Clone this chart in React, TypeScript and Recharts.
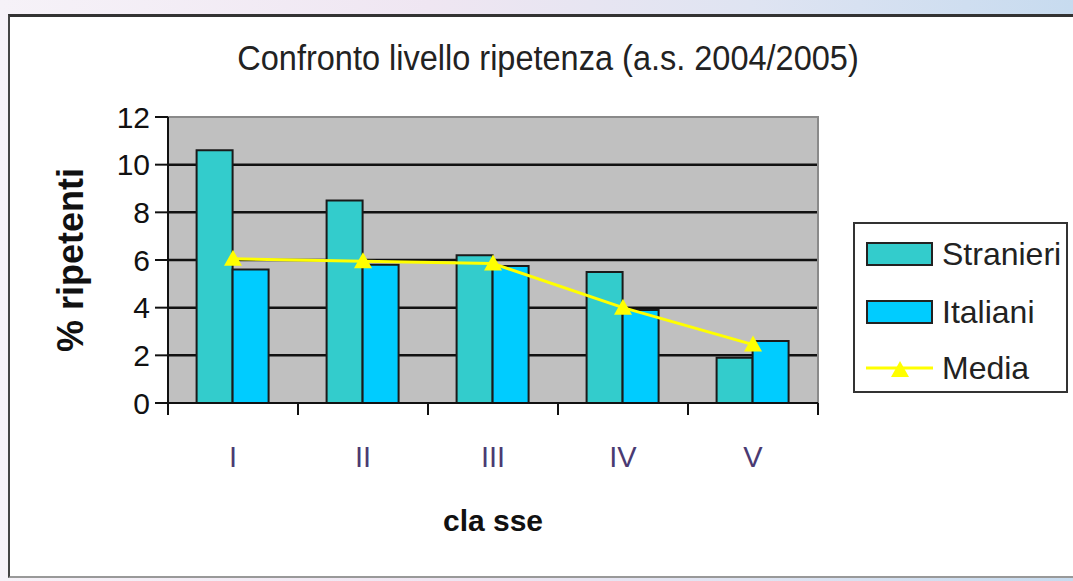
import {
  ComposedChart,
  Bar,
  Line,
  XAxis,
  YAxis,
  CartesianGrid,
  Legend,
  ReferenceArea,
} from "recharts";

// classi e percentuali di ripetenti (a.s. 2004/2005)
const classes = ["I", "II", "III", "IV", "V"];
const stranieri = [10.6, 8.5, 6.2, 5.5, 1.9];
const italiani = [5.6, 5.8, 5.75, 3.9, 2.6];
const media = [6.05, 5.95, 5.85, 4.0, 2.45];
const yTicks = [0, 2, 4, 6, 8, 10, 12];
const gridValues = [2, 4, 6, 8, 10];

const data = classes.map((c, i) => ({
  classe: c,
  Stranieri: stranieri[i],
  Italiani: italiani[i],
  Media: media[i],
}));

const W = 1073;
const H = 581;
const margin = { top: 117, right: 255, bottom: 38, left: 108 };
const Y_AXIS_W = 60;
const X_AXIS_H = 140;
const TICK_SIZE = 12;
const TICK_MARGIN = 31;
const BAND = (W - margin.left - margin.right - Y_AXIS_W) / classes.length;
const FONT = '"Liberation Sans", Arial, sans-serif';

const COL_STR = "#33CCCC";
const COL_ITA = "#00CCFF";
const COL_MEDIA = "#FFFF00";

const Triangle = ({ cx, cy }: any) => {
  if (cx == null || cy == null) return null;
  return (
    <polygon
      points={`${cx},${cy - 9} ${cx - 9},${cy + 7} ${cx + 9},${cy + 7}`}
      fill={COL_MEDIA}
    />
  );
};

// tick label at category centre, tick marks at category boundaries
const XTick = ({ x, y, payload, index }: any) => {
  const axisY = y - TICK_SIZE - TICK_MARGIN;
  const half = BAND / 2;
  return (
    <g>
      <line x1={x - half} x2={x - half} y1={axisY} y2={axisY + TICK_SIZE} stroke="#111" strokeWidth={2} />
      {index === classes.length - 1 && (
        <line x1={x + half} x2={x + half} y1={axisY} y2={axisY + TICK_SIZE} stroke="#111" strokeWidth={2} />
      )}
      <text x={x} y={y} dy="0.71em" textAnchor="middle" fontSize={29} fill="#4a3a72" fontFamily={FONT}>
        {payload.value}
      </text>
    </g>
  );
};

const YLabel = ({ viewBox }: any) => {
  const cx = viewBox.x - 38;
  const cy = viewBox.y + viewBox.height / 2;
  return (
    <text
      x={cx}
      y={cy}
      transform={`rotate(-90 ${cx} ${cy})`}
      textAnchor="middle"
      dominantBaseline="central"
      fontSize={36}
      fontWeight="bold"
      fill="#111"
      fontFamily={FONT}
    >
      % ripetenti
    </text>
  );
};

const LegendBox = () => {
  const rows = [
    { name: "Stranieri", color: COL_STR, type: "bar", center: 30 },
    { name: "Italiani", color: COL_ITA, type: "bar", center: 88 },
    { name: "Media", color: COL_MEDIA, type: "line", center: 144 },
  ];
  return (
    <div
      style={{
        position: "relative",
        width: 215,
        height: 171,
        boxSizing: "border-box",
        border: "2px solid #333",
        background: "#fff",
        fontFamily: FONT,
      }}
    >
      {rows.map((r) => (
        <div key={r.name} style={{ position: "absolute", left: 11, top: r.center - 17, height: 34, display: "flex", alignItems: "center" }}>
          {r.type === "bar" ? (
            <div style={{ width: 67, height: 24, boxSizing: "border-box", background: r.color, border: "2px solid #222" }} />
          ) : (
            <svg width={67} height={24}>
              <line x1={0} x2={67} y1={12} y2={12} stroke={r.color} strokeWidth={3} />
              <Triangle cx={34} cy={14} />
            </svg>
          )}
          <span style={{ marginLeft: 9, fontSize: 32, color: "#222", lineHeight: "34px" }}>{r.name}</span>
        </div>
      ))}
    </div>
  );
};

export default function App() {
  return (
    <div
      style={{
        position: "absolute",
        left: 0,
        top: 0,
        width: W,
        height: H,
        overflow: "hidden",
        background: "linear-gradient(to right, #f6f2f8, #efe6f2 40%, #dfe4f2 70%, #c7dbef)",
      }}
    >
      <div
        style={{
          position: "absolute",
          left: 8,
          top: 14,
          width: W,
          height: H - 17,
          boxSizing: "border-box",
          background: "#fff",
          borderLeft: "2px solid #444",
          borderTop: "3px solid #333",
          borderBottom: "2px solid #999",
        }}
      />
      <div
        style={{
          position: "absolute",
          left: 548,
          top: 58,
          transform: "translate(-50%, -50%) scaleY(1.1)",
          whiteSpace: "nowrap",
          fontFamily: FONT,
          fontSize: 32.5,
          color: "#222",
        }}
      >
        Confronto livello ripetenza (a.s. 2004/2005)
      </div>
      <div style={{ position: "absolute", left: 0, top: 0 }}>
        <ComposedChart
          width={W}
          height={H}
          data={data}
          margin={margin}
          barCategoryGap="22%"
          barGap={0}
        >
          <CartesianGrid
            vertical={false}
            horizontalValues={gridValues}
            fill="#C0C0C0"
            fillOpacity={1}
            stroke="#111"
            strokeWidth={2.5}
          />
          <ReferenceArea y1={0} y2={12} fill="none" stroke="#8a8a8a" strokeWidth={2} />
          <XAxis
            dataKey="classe"
            height={X_AXIS_H}
            tick={<XTick />}
            tickSize={TICK_SIZE}
            tickMargin={TICK_MARGIN}
            tickLine={{ stroke: "none" }}
            axisLine={{ stroke: "#111", strokeWidth: 2 }}
            label={{
              value: "cla sse",
              position: "insideBottom",
              offset: 12,
              style: { fontSize: 30, fontWeight: "bold", fill: "#111", fontFamily: FONT },
            }}
          />
          <YAxis
            width={Y_AXIS_W}
            domain={[0, 12]}
            ticks={yTicks}
            tickSize={13}
            tickMargin={5}
            tick={{ fontSize: 30, fill: "#111", fontFamily: FONT }}
            tickLine={{ stroke: "#111", strokeWidth: 2 }}
            axisLine={{ stroke: "#111", strokeWidth: 2 }}
            label={{ content: YLabel }}
          />
          <Legend
            layout="horizontal"
            verticalAlign="middle"
            align="center"
            content={() => <LegendBox />}
            wrapperStyle={{ left: 853, top: 222, width: 215, height: 171 }}
          />
          <Bar dataKey="Stranieri" fill={COL_STR} stroke="#1a1a1a" strokeWidth={2} isAnimationActive={false} />
          <Bar dataKey="Italiani" fill={COL_ITA} stroke="#1a1a1a" strokeWidth={2} isAnimationActive={false} />
          <Line
            dataKey="Media"
            type="linear"
            stroke={COL_MEDIA}
            strokeWidth={3}
            dot={<Triangle />}
            activeDot={false}
            isAnimationActive={false}
          />
        </ComposedChart>
      </div>
    </div>
  );
}
